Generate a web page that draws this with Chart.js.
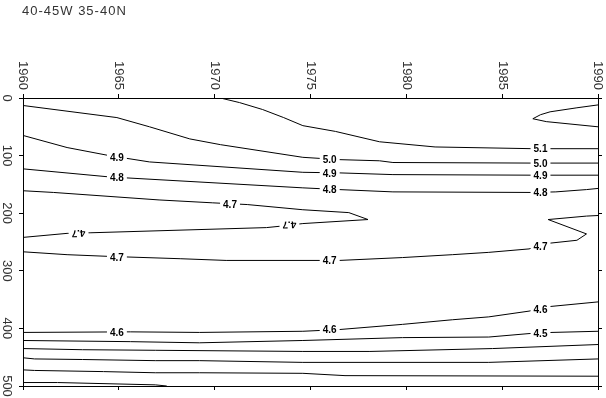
<!DOCTYPE html>
<html>
<head>
<meta charset="utf-8">
<script src="https://cdn.jsdelivr.net/npm/chart.js"></script>
<style>
  body { margin: 0; background: #fff; }
  #wrap { width: 606px; height: 398px; }
</style>
</head>
<body>
<div id="wrap"><canvas id="contour" width="606" height="398"></canvas></div>
<script>
// title and axis ticks
var title = '40-45W 35-40N';
var yearTicks = [1960, 1965, 1970, 1975, 1980, 1985, 1990];
var depthTicks = [0, 100, 200, 300, 400, 500];

// contour lines, [year, depth]
var c52 = [[1990, 12], [1988.9, 17], [1987.5, 24], [1987.0, 29], [1986.6, 36], [1987.3, 41], [1990, 50]];
var c51 = [[1970.3, 0], [1971.3, 8], [1972.5, 20], [1973.6, 34], [1974.6, 48], [1976.3, 58], [1978.6, 76], [1981.5, 85], [1986.6, 88], [1990, 88]];
var c50 = [[1960, 13], [1964.9, 34], [1966.6, 50], [1968.7, 71], [1970.3, 81], [1974.6, 103], [1976.5, 107], [1978.6, 109], [1979.3, 112], [1986.6, 113], [1990, 113]];
var c49 = [[1960, 65], [1962.3, 86], [1964.5, 100], [1966.6, 111], [1974.6, 129], [1976.5, 130], [1979.3, 133], [1986.6, 134], [1990, 134]];
var c48 = [[1960, 123], [1964.5, 137], [1974.6, 156], [1976.5, 159], [1979.3, 163], [1986.6, 164], [1987.8, 163], [1989.4, 159], [1990, 157]];
var c47a = [[1960, 161], [1961.6, 164], [1967.1, 177], [1969.9, 182], [1971.7, 185], [1974.6, 194], [1977.0, 199], [1978.0, 211], [1974.6, 218], [1973.6, 222], [1972.7, 225], [1963.5, 234], [1962.3, 235], [1960, 242]];
var c47b = [[1960, 267], [1962.3, 272], [1964.5, 275], [1968.2, 279], [1970.6, 282], [1976.5, 282], [1979.8, 277], [1982.4, 272], [1984.3, 268], [1986.4, 262], [1987.5, 252], [1988.9, 247], [1989.4, 236], [1987.4, 211], [1989.4, 205], [1990, 204]];
var c46 = [[1960, 407], [1965.6, 406], [1969.2, 407], [1974.6, 405], [1976.5, 402], [1979.8, 393], [1982.4, 385], [1984.3, 380], [1986.4, 370], [1987.5, 362], [1990, 354]];
var c45 = [[1960, 421], [1965.6, 423], [1969.2, 425], [1974.6, 421], [1979.8, 416], [1984.3, 415], [1986.4, 409], [1987.6, 407], [1990, 405]];
var c44 = [[1960, 435], [1963.1, 437], [1966.9, 438], [1974.6, 440], [1978.1, 440], [1984.5, 435], [1990, 428]];
var c43 = [[1960, 451], [1960.6, 453], [1963.1, 454], [1966.9, 456], [1969.2, 456], [1974.6, 459], [1984.3, 459], [1990, 453]];
var c42 = [[1960, 472], [1960.6, 473], [1964.2, 475], [1966.9, 477], [1969.2, 477], [1974.6, 478], [1976.8, 482], [1990, 483]];
var c41 = [[1960, 494], [1961.8, 494], [1966.9, 498], [1967.5, 500]];

// contour labels: text, year, depth, upside down
var contourLabels = [
    ['5.1', 1987.0, 88, false],
    ['5.0', 1976.0, 107, false], ['5.0', 1987.0, 113, false],
    ['4.9', 1964.9, 102, false], ['4.9', 1976.0, 130, false], ['4.9', 1987.0, 134, false],
    ['4.8', 1964.9, 137, false], ['4.8', 1976.0, 159, false], ['4.8', 1987.0, 163, false],
    ['4.7', 1970.8, 184, false], ['4.7', 1973.9, 221, true], ['4.7', 1962.9, 236, true],
    ['4.7', 1964.9, 276, false], ['4.7', 1976.0, 282, false], ['4.7', 1987.0, 257, false],
    ['4.6', 1964.9, 406, false], ['4.6', 1976.0, 402, false], ['4.6', 1987.0, 366, false],
    ['4.5', 1987.0, 409, false]
];

var lines = [c52, c51, c50, c49, c48, c47a, c47b, c46, c45, c44, c43, c42, c41];

var datasets = [];
for (var i = 0; i < lines.length; i++) {
    datasets.push({
        data: lines[i].map(function(p) { return { x: p[0], y: p[1] }; }),
        showLine: true,
        borderColor: '#000',
        borderWidth: 1,
        pointRadius: 0,
        tension: 0
    });
}

var labelPlugin = {   // draws the rotated tick labels, the title and the contour labels
    id: 'labelPlugin',
    afterDatasetsDraw: function(chart) {
        var ctx = chart.ctx;
        var xs = chart.scales.x;
        var ys = chart.scales.y;
        var area = chart.chartArea;

        ctx.save();
        ctx.font = 'bold 10px "Liberation Sans", Arial, sans-serif';
        ctx.textAlign = 'center';
        ctx.textBaseline = 'middle';
        contourLabels.forEach(function(l) {
            var px = xs.getPixelForValue(l[1]);
            var py = ys.getPixelForValue(l[2]);
            var w = ctx.measureText(l[0]).width;
            ctx.save();
            ctx.translate(px, py);
            if (l[3]) ctx.rotate(Math.PI - 0.05);
            ctx.fillStyle = '#fff';
            ctx.fillRect(-w / 2 - 3, -5, w + 6, 10);
            ctx.fillStyle = '#000';
            ctx.fillText(l[0], 0, 1);
            ctx.restore();
        });
        ctx.restore();

        ctx.save();
        ctx.fillStyle = '#333';
        ctx.font = '13px "Liberation Sans", Arial, sans-serif';
        ctx.textBaseline = 'middle';
        ctx.textAlign = 'left';
        ctx.letterSpacing = '1px';
        ctx.fillText(title, 22, 11);
        ctx.letterSpacing = '0px';

        yearTicks.forEach(function(v) {
            ctx.save();
            ctx.translate(xs.getPixelForValue(v), area.top - 8);
            ctx.rotate(Math.PI / 2);
            ctx.textAlign = 'right';
            ctx.fillText(String(v), 0, 0);
            ctx.restore();
        });
        depthTicks.forEach(function(v) {
            ctx.save();
            ctx.translate(area.left - 16, ys.getPixelForValue(v));
            ctx.rotate(Math.PI / 2);
            ctx.textAlign = 'center';
            ctx.fillText(String(v), 0, 0);
            ctx.restore();
        });
        ctx.restore();
    }
};

function axis(position, min, max, step, reverse) {
    return {
        type: 'linear',
        position: position,
        min: min,
        max: max,
        reverse: reverse,
        ticks: { display: false, stepSize: step },
        grid: { drawOnChartArea: false, drawTicks: true, tickLength: 4, color: '#000' },
        border: { display: true, color: '#000', width: 1 }
    };
}

var chart = new Chart(document.getElementById('contour'), {
    type: 'scatter',
    data: { datasets: datasets },
    options: {
        responsive: false,
        devicePixelRatio: 1,
        animation: false,
        layout: { padding: { top: 94, left: 19, right: 4, bottom: 8 } },
        plugins: { legend: { display: false }, tooltip: { enabled: false } },
        scales: {
            x: axis('top', 1960, 1990, 5, false),
            x2: axis('bottom', 1960, 1990, 5, false),
            y: axis('left', 0, 500, 100, true),
            y2: axis('right', 0, 500, 100, true)
        }
    },
    plugins: [labelPlugin]
});
</script>
</body>
</html>
